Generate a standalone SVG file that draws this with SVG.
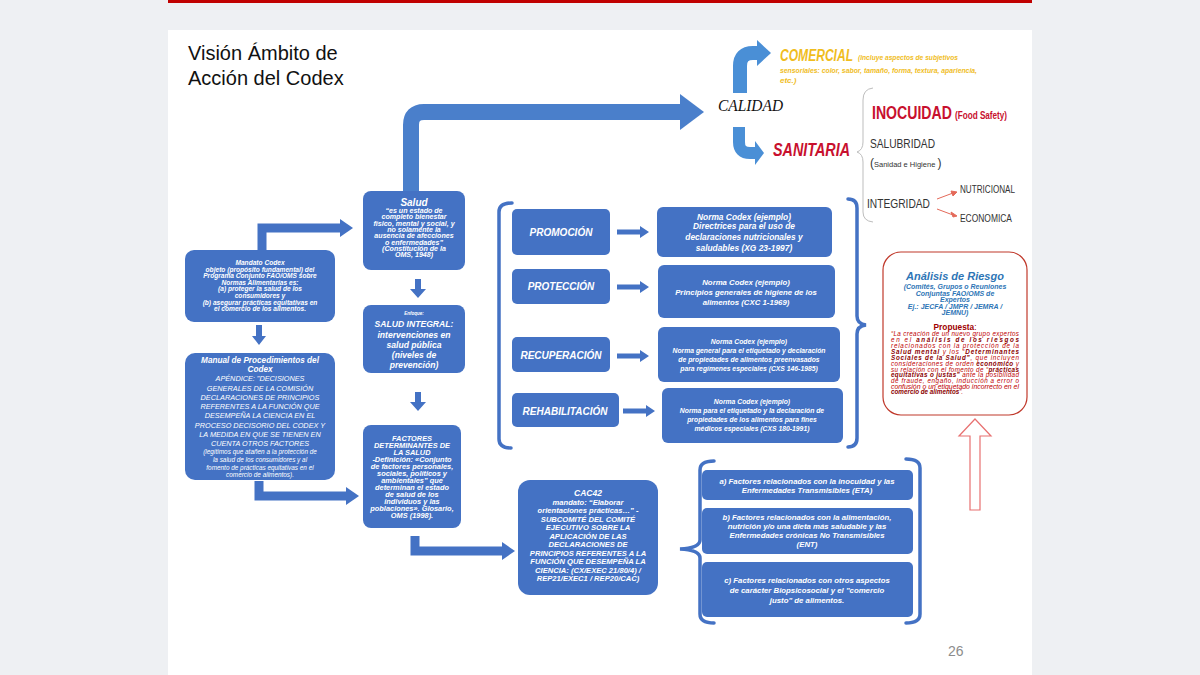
<svg xmlns="http://www.w3.org/2000/svg" width="1200" height="675" viewBox="0 0 1200 675">
<style>
.bx{fill:#4472c4}
.wt{fill:#fff;font-family:"Liberation Sans",Arial,sans-serif;font-weight:bold;font-style:italic;text-anchor:middle}
.wr{fill:#fff;font-family:"Liberation Sans",Arial,sans-serif;font-style:italic;text-anchor:middle}
.ar{fill:#4472c4}
.el{fill:none;stroke:#4472c4;stroke-width:9}
.br{fill:none;stroke:#4472c4;stroke-width:3.5;stroke-linecap:round}
.sn{font-family:"Liberation Sans",Arial,sans-serif}
.rd{fill:#c00000;font-family:"Liberation Sans",Arial,sans-serif;font-style:italic;font-size:6.3px}
.bl{fill:#2e75b6;font-family:"Liberation Sans",Arial,sans-serif;font-weight:bold;font-style:italic;text-anchor:middle}
</style>
<rect x="0" y="0" width="1200" height="675" fill="#eef0f3"/>
<rect x="168" y="30" width="864" height="645" fill="#ffffff"/>
<rect x="168" y="0" width="864" height="3" fill="#c00000"/>
<text class="sn" x="188" y="60" font-size="20" fill="#111">Visión Ámbito de</text>
<text class="sn" x="188" y="85" font-size="20" fill="#111">Acción del Codex</text>
<text class="sn" x="948" y="656" font-size="14" fill="#8c8c8c">26</text>

<g id="connectors">
  <path d="M411,191 V125 Q411,112 424,112 H682" fill="none" stroke="#4a7fcb" stroke-width="16"/>
  <polygon points="680,94 704,112 680,130" fill="#4a7fcb"/>
  <path d="M740,93 V66 Q740,53 753,53 H759" fill="none" stroke="#4a8fd6" stroke-width="14"/>
  <polygon points="757,40 771,53 757,66" fill="#4a8fd6"/>
  <path d="M739,127 V142 Q739,153 750,153 H757" fill="none" stroke="#4a8fd6" stroke-width="12"/>
  <polygon points="755,141 764,153 755,165" fill="#4a8fd6"/>
  <path d="M873,88 Q863,89 863,100 V142 Q863,150 857,152 Q863,154 863,162 V212 Q863,221 873,222" fill="none" stroke="#bdbdbd" stroke-width="1"/>
  <g stroke="#e46a5a" stroke-width="1" fill="#e46a5a">
    <line x1="937" y1="199" x2="953" y2="193"/>
    <polygon points="957,192 951,191 953,196"/>
    <line x1="937" y1="209" x2="953" y2="215"/>
    <polygon points="957,216 951,212 953,217"/>
  </g>
  <path class="el" d="M262,250 V228 H342"/>
  <polygon class="ar" points="340,219 353,228 340,237"/>
  <path class="el" d="M259,481 V496 H348"/>
  <polygon class="ar" points="346,487 359,496 346,505"/>
  <path class="el" d="M415,536 V551 H504"/>
  <polygon class="ar" points="502,542 515,551 502,560"/>
  <path class="ar" d="M256,325 H262 V336 H266 L259,345 L252,336 H256 Z"/>
  <path class="ar" d="M415,279 H421 V289 H426 L418,298 L410,289 H415 Z"/>
  <path class="ar" d="M415,392 H421 V402 H426 L418,411 L410,402 H415 Z"/>
  <path class="ar" d="M617,229.5 H640 V226 L649,232 L640,238 V234.5 H617 Z"/>
  <path class="ar" d="M617,284.5 H640 V281 L649,287 L640,293 V289.5 H617 Z"/>
  <path class="ar" d="M617,353.5 H640 V350 L649,356 L640,362 V358.5 H617 Z"/>
  <path class="ar" d="M623,408.5 H646 V405 L655,411 L646,417 V413.5 H623 Z"/>
  <path class="br" d="M512,203 Q499,203 499,212 V439 Q499,448 511,448"/>
  <path class="br" d="M848,199 Q857,199 857,208 V316 Q857,324 866,325 Q857,326 857,334 V438 Q857,447 848,447"/>
  <path class="br" d="M714,461 Q700,461 700,470 V540 Q700,548 680,549 Q700,550 700,558 V614 Q700,623 714,623"/>
  <path class="br" d="M906,459 Q920,459 920,468 V614 Q920,623 906,623"/>
  <polygon points="975,419 991,436 980,436 980,510 970,510 970,436 959,436" fill="#fff" stroke="#e87070" stroke-width="1.2"/>
</g>

<g id="calidad">
  <text x="718" y="111" font-family="Liberation Serif" font-style="italic" font-size="17" fill="#111" textLength="65" lengthAdjust="spacingAndGlyphs">CALIDAD</text>
</g>
<g id="comercial" font-family="Liberation Sans" font-weight="bold" font-style="italic" fill="#f0bd1e">
  <text transform="translate(780,61) scale(0.71,1)" font-size="17">COMERCIAL</text>
  <text x="858" y="60" font-size="8" textLength="100" lengthAdjust="spacingAndGlyphs">(incluye aspectos de subjetivos</text>
  <text x="780" y="73" font-size="8" textLength="197" lengthAdjust="spacingAndGlyphs">sensoriales: color, sabor, tamaño, forma, textura, apariencia,</text>
  <text x="780" y="83" font-size="8">etc.)</text>
</g>
<g id="sanitaria">
  <text x="773" y="156" font-family="Liberation Sans" font-weight="bold" font-style="italic" font-size="17.5" fill="#c8102e" textLength="77" lengthAdjust="spacingAndGlyphs">SANITARIA</text>
</g>
<g id="inocuidad" font-family="Liberation Sans" font-weight="bold" fill="#c8102e">
  <text transform="translate(872,119) scale(0.743,1)" font-size="19">INOCUIDAD</text>
  <text transform="translate(955,119) scale(0.777,1)" font-size="10.5">(Food Safety)</text>
</g>
<g id="salubridad" font-family="Liberation Sans">
  <text x="870" y="148" font-size="13" fill="#333" textLength="65" lengthAdjust="spacingAndGlyphs">SALUBRIDAD</text>
  <text x="870" y="167" fill="#333"><tspan font-size="12" fill="#333">(</tspan><tspan font-size="7.5" fill="#333">Sanidad e Higiene </tspan><tspan font-size="12" fill="#333">)</tspan></text>
</g>
<g id="integridad" font-family="Liberation Sans" fill="#333">
  <text x="867" y="208" font-size="13" textLength="63" lengthAdjust="spacingAndGlyphs">INTEGRIDAD</text>
  <text x="960" y="193" font-size="11" textLength="55" lengthAdjust="spacingAndGlyphs">NUTRICIONAL</text>
  <text x="960" y="222" font-size="11" textLength="52" lengthAdjust="spacingAndGlyphs">ECONOMICA</text>
</g>

<g id="mandato">
  <rect class="bx" x="185" y="250" width="150" height="72" rx="9"/>
  <text class="wt" font-size="6.6"><tspan x="260" y="265">Mandato Codex</tspan><tspan x="260" y="271.5">objeto (propósito fundamental) del</tspan><tspan x="260" y="278">Programa Conjunto FAO/OMS sobre</tspan><tspan x="260" y="284.5">Normas Alimentarias es:</tspan><tspan x="260" y="291">(a) proteger la salud de los</tspan><tspan x="260" y="297.5">consumidores y</tspan><tspan x="260" y="304.5">(b) asegurar prácticas equitativas en</tspan><tspan x="260" y="311">el comercio de los alimentos.</tspan></text>
</g>
<g id="manual">
  <rect class="bx" x="185" y="353" width="150" height="127" rx="10"/>
  <text class="wt" font-size="8.2"><tspan x="260" y="363">Manual de Procedimientos del</tspan><tspan x="260" y="372">Codex</tspan></text>
  <text class="wr" font-size="7.3"><tspan x="260" y="381">APÉNDICE: "DECISIONES</tspan><tspan x="260" y="390.5">GENERALES DE LA COMISIÓN</tspan><tspan x="260" y="400">DECLARACIONES DE PRINCIPIOS</tspan><tspan x="260" y="409">REFERENTES A LA FUNCIÓN QUE</tspan><tspan x="260" y="418">DESEMPEÑA LA CIENCIA EN EL</tspan><tspan x="260" y="427.5">PROCESO DECISORIO DEL CODEX Y</tspan><tspan x="260" y="436.5">LA MEDIDA EN QUE SE TIENEN EN</tspan><tspan x="260" y="446">CUENTA OTROS FACTORES</tspan></text>
  <text class="wr" font-size="6.4"><tspan x="260" y="454">(legítimos que atañen a la protección de</tspan><tspan x="260" y="462">la salud de los consumidores y al</tspan><tspan x="260" y="469.5">fomento de prácticas equitativas en el</tspan><tspan x="260" y="477">comercio de alimentos).</tspan></text>
</g>
<g id="salud">
  <rect class="bx" x="363" y="191" width="102" height="79" rx="8"/>
  <text class="wt" x="414" y="205.5" font-size="10">Salud</text>
  <text class="wt" font-size="7.1"><tspan x="414" y="213">“es un estado de</tspan><tspan x="414" y="219.3">completo bienestar</tspan><tspan x="414" y="225.6">físico, mental y social, y</tspan><tspan x="414" y="231.9">no solamente la</tspan><tspan x="414" y="238.2">ausencia de afecciones</tspan><tspan x="414" y="244.5">o enfermedades”</tspan><tspan x="414" y="250.8">(Constitución de la</tspan><tspan x="414" y="257.1">OMS, 1948)</tspan></text>
</g>
<g id="salud-integral">
  <rect class="bx" x="363" y="305" width="102" height="68" rx="8"/>
  <text class="wt" x="414" y="315" font-size="4.5">Enfoque:</text>
  <text class="wt" font-size="8.6"><tspan x="414" y="327">SALUD INTEGRAL:</tspan><tspan x="414" y="337.5">intervenciones  en</tspan><tspan x="414" y="347.5">salud pública</tspan><tspan x="414" y="357.5">(niveles de</tspan><tspan x="414" y="367.5">prevención)</tspan></text>
</g>
<g id="factores">
  <rect class="bx" x="363" y="425" width="98" height="103" rx="8"/>
  <text class="wt" font-size="7.4"><tspan x="412" y="441">FACTORES</tspan><tspan x="412" y="448">DETERMINANTES DE</tspan><tspan x="412" y="455">LA SALUD</tspan><tspan x="412" y="462">-Definición: «Conjunto</tspan><tspan x="412" y="469">de factores personales,</tspan><tspan x="412" y="476">sociales, políticos y</tspan><tspan x="412" y="483">ambientales” que</tspan><tspan x="412" y="490">determinan el estado</tspan><tspan x="412" y="497">de salud de los</tspan><tspan x="412" y="504">individuos y las</tspan><tspan x="412" y="511">poblaciones». Glosario,</tspan><tspan x="412" y="518">OMS (1998).</tspan></text>
</g>
<g id="promocion">
  <rect class="bx" x="512" y="209" width="98" height="46" rx="5"/>
  <text class="wt" x="561" y="236" font-size="10">PROMOCIÓN</text>
</g>
<g id="norma1">
  <rect class="bx" x="657" y="207" width="175" height="50" rx="6"/>
  <text class="wt" font-size="8.4"><tspan x="744" y="220">Norma Codex (ejemplo)</tspan><tspan x="744" y="229">Directrices para el uso de</tspan><tspan x="744" y="240">declaraciones nutricionales y</tspan><tspan x="744" y="251">saludables (XG 23-1997)</tspan></text>
</g>
<g id="proteccion">
  <rect class="bx" x="512" y="269" width="98" height="35" rx="5"/>
  <text class="wt" x="561" y="290" font-size="10">PROTECCIÓN</text>
</g>
<g id="norma2">
  <rect class="bx" x="658" y="265" width="177" height="53" rx="6"/>
  <text class="wt" font-size="7.8"><tspan x="746" y="284.5">Norma Codex (ejemplo)</tspan><tspan x="746" y="295">Principios generales de higiene de los</tspan><tspan x="746" y="305">alimentos (CXC 1-1969)</tspan></text>
</g>
<g id="recuperacion">
  <rect class="bx" x="512" y="337" width="98" height="35" rx="5"/>
  <text class="wt" x="561" y="358.5" font-size="10">RECUPERACIÓN</text>
</g>
<g id="norma3">
  <rect class="bx" x="658" y="327" width="182" height="55" rx="6"/>
  <text class="wt" font-size="6.8"><tspan x="749" y="344">Norma Codex (ejemplo)</tspan><tspan x="749" y="353">Norma general para el etiquetado y declaración</tspan><tspan x="749" y="361.5">de propiedades de alimentos preenvasados</tspan><tspan x="749" y="370.5">para regímenes especiales (CXS 146-1985)</tspan></text>
</g>
<g id="rehabilitacion">
  <rect class="bx" x="512" y="393" width="107" height="34" rx="5"/>
  <text class="wt" x="565" y="414.5" font-size="10">REHABILITACIÓN</text>
</g>
<g id="norma4">
  <rect class="bx" x="662" y="388" width="181" height="55" rx="6"/>
  <text class="wt" font-size="6.8"><tspan x="752" y="404">Norma Codex (ejemplo)</tspan><tspan x="752" y="413">Norma para el etiquetado y la declaración de</tspan><tspan x="752" y="421.5">propiedades de los alimentos para fines</tspan><tspan x="752" y="430.5">médicos especiales (CXS 180-1991)</tspan></text>
</g>
<g id="analisis">
  <rect x="883" y="252" width="144" height="163" rx="18" fill="#fff" stroke="#c0392b" stroke-width="1.2"/>
  <text class="bl" x="955" y="279.5" font-size="11">Análisis de Riesgo</text>
  <text class="bl" font-size="7"><tspan x="955" y="289">(Comités, Grupos o Reuniones</tspan><tspan x="955" y="295.5">Conjuntas FAO/OMS de</tspan><tspan x="955" y="302">Expertos</tspan><tspan x="955" y="308.5">Ej.: JECFA / JMPR / JEMRA /</tspan><tspan x="955" y="315">JEMNU)</tspan></text>
  <text x="955" y="330" text-anchor="middle" font-family="Liberation Sans" font-size="8.3" fill="#a00000"><tspan font-weight="bold">Propuesta</tspan>:</text>
  <text class="rd" x="891" y="336" textLength="128" lengthAdjust="spacing">“La creación de un nuevo grupo expertos</text>
  <text class="rd" x="891" y="342" textLength="128" lengthAdjust="spacing">en el <tspan font-weight="bold" fill="#8b0000">análisis de los riesgos</tspan></text>
  <text class="rd" x="891" y="348" textLength="128" lengthAdjust="spacing">relacionados con la protección de la</text>
  <text class="rd" x="891" y="354" textLength="128" lengthAdjust="spacing"><tspan font-weight="bold" fill="#8b0000">Salud mental</tspan> y los “<tspan font-weight="bold" fill="#8b0000">Determinantes</tspan></text>
  <text class="rd" x="891" y="360" textLength="128" lengthAdjust="spacing"><tspan font-weight="bold" fill="#8b0000">Sociales de la Salud”</tspan>, que incluyen</text>
  <text class="rd" x="891" y="366" textLength="128" lengthAdjust="spacing">consideraciones de orden <tspan font-weight="bold" fill="#8b0000">económico</tspan> y</text>
  <text class="rd" x="891" y="371.5" textLength="128" lengthAdjust="spacing">su relación con el fomento de “<tspan font-weight="bold" fill="#8b0000">prácticas</tspan></text>
  <text class="rd" x="891" y="377" textLength="128" lengthAdjust="spacing"><tspan font-weight="bold" fill="#8b0000">equitativas o justas”</tspan> ante la posibilidad</text>
  <text class="rd" x="891" y="383" textLength="128" lengthAdjust="spacing">de fraude, engaño, inducción a error o</text>
  <text class="rd" x="891" y="388.5" textLength="128" lengthAdjust="spacingAndGlyphs">confusión o un etiquetado incorrecto en el</text>
  <text class="rd" x="891" y="394"><tspan font-weight="bold" fill="#8b0000">comercio de alimentos</tspan>”.</text>
</g>
<g id="cac42">
  <rect class="bx" x="518" y="480" width="140" height="115" rx="12"/>
  <text class="wt" x="588" y="496" font-size="8.5" font-style="normal">CAC42</text>
  <text class="wt" font-size="7.6"><tspan x="588" y="504.5">mandato: “Elaborar</tspan><tspan x="588" y="513">orientaciones prácticas…” -</tspan><tspan x="588" y="521.5">SUBCOMITÉ DEL COMITÉ</tspan><tspan x="588" y="530">EJECUTIVO SOBRE LA</tspan><tspan x="588" y="538.5">APLICACIÓN DE LAS</tspan><tspan x="588" y="547">DECLARACIONES DE</tspan><tspan x="588" y="555.5">PRINCIPIOS REFERENTES A LA</tspan><tspan x="588" y="564">FUNCIÓN QUE DESEMPEÑA LA</tspan><tspan x="588" y="572.5">CIENCIA: (CX/EXEC 21/80/4)  /</tspan><tspan x="588" y="581">REP21/EXEC1 / REP20/CAC)</tspan></text>
</g>
<g id="factor-a">
  <rect class="bx" x="702" y="470" width="211" height="30" rx="5"/>
  <text class="wt" font-size="7.8"><tspan x="807" y="484">a) Factores relacionados con la inocuidad y las</tspan><tspan x="807" y="493">Enfermedades Transmisibles (ETA)</tspan></text>
</g>
<g id="factor-b">
  <rect class="bx" x="702" y="508" width="211" height="46" rx="5"/>
  <text class="wt" font-size="7.8"><tspan x="807" y="520">b) Factores relacionados con la alimentación,</tspan><tspan x="807" y="529">nutrición y/o una dieta más saludable y las</tspan><tspan x="807" y="538">Enfermedades crónicas No Transmisibles</tspan><tspan x="807" y="547">(ENT)</tspan></text>
</g>
<g id="factor-c">
  <rect class="bx" x="702" y="562" width="211" height="55" rx="5"/>
  <text class="wt" font-size="7.8"><tspan x="807" y="583">c) Factores relacionados con otros aspectos</tspan><tspan x="807" y="593">de carácter Biopsicosocial y el "comercio</tspan><tspan x="807" y="603">justo" de alimentos.</tspan></text>
</g>
</svg>
